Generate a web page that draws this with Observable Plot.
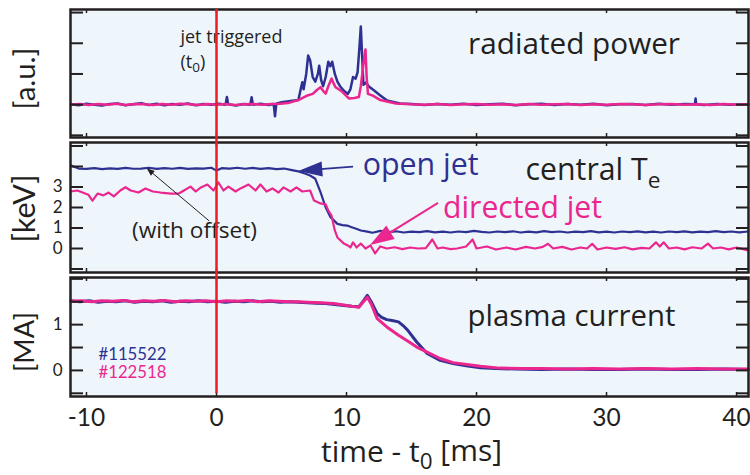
<!DOCTYPE html>
<html><head><meta charset="utf-8">
<script src="https://cdn.jsdelivr.net/npm/d3@7"></script>
<script src="https://cdn.jsdelivr.net/npm/@observablehq/plot@0.6"></script>
<style>
body{margin:0;background:#fff;}
#chart{position:relative;width:750px;height:475px;font-family:"Open Sans",sans-serif;}
#chart svg{position:absolute;left:0;overflow:visible;}
</style></head><body><div id="chart"></div>
<script>
// ---------- data ----------
const xTicks = [-10, 0, 10, 20, 30, 40];
const triggerTime = [0];
const shotNames = ["#115522", "#122518"];

const radiated_115522 = [[-11.2,0.01],[-10.6,-0.02],[-10,0.03],[-9.4,0],[-8.8,-0.03],[-8.2,0.02],[-7.6,0.04],[-7,-0.02],[-6.4,0.01],[-5.8,0.05],[-5.2,-0.01],[-4.6,0.03],[-4,-0.02],[-3.4,0.02],[-2.8,0],[-2.2,0.04],[-1.6,-0.02],[-1,0.02],[-0.4,0],[0.2,0.03],[0.7,0],[0.8,0.25],[0.9,0.01],[1.5,-0.03],[2.1,0.02],[2.6,0],[2.7,0.24],[2.8,0],[3.4,0.03],[4,-0.01],[4.4,0.02],[4.5,-0.38],[4.6,0.03],[5,0.08],[5.7,0.12],[6.3,0.15],[6.5,0.55],[6.6,0.73],[6.7,0.5],[6.9,1.0],[7.05,1.6],[7.2,1.45],[7.4,0.9],[7.6,0.75],[7.8,1.0],[7.9,1.27],[8.05,0.8],[8.2,0.6],[8.4,0.9],[8.6,1.4],[8.75,1.25],[8.9,1.4],[9.1,1.0],[9.3,0.75],[9.5,0.6],[9.8,0.45],[10.1,0.35],[10.3,0.5],[10.5,0.9],[10.7,0.85],[10.85,1.05],[11,1.9],[11.1,2.55],[11.2,1.6],[11.3,0.65],[11.5,0.72],[11.7,0.6],[12.1,0.47],[12.6,0.3],[13.1,0.14],[14.1,0.04],[15,0.02],[16,-0.01],[17,0.02],[18,0],[19,0.03],[20,-0.01],[21,0.01],[22,0.03],[23,-0.02],[24,0.01],[25,0.03],[26,-0.01],[27,0.02],[28,0],[29,0.03],[30,-0.02],[31,0.01],[32,0.02],[33,-0.01],[34,0.03],[35,0],[36,0.02],[36.8,0.01],[36.85,0.2],[36.9,0.01],[37.5,-0.01],[38.5,0.02],[39.5,0],[40.9,0.01]];
const radiated_122518 = [[-11.2,0],[-10.5,0.02],[-9.8,-0.01],[-9.1,0.02],[-8.4,0],[-7.7,0.03],[-7,-0.01],[-6.3,0.02],[-5.6,0.01],[-4.9,-0.01],[-4.2,0.02],[-3.5,0],[-2.8,0.03],[-2.1,0.01],[-1.4,-0.01],[-0.7,0.02],[0,0],[0.7,0.02],[1.4,-0.01],[2.1,0.01],[2.8,0.02],[3.5,0],[4.2,0.02],[4.9,0.03],[5.5,0.05],[6.3,0.15],[7,0.3],[7.4,0.35],[7.7,0.47],[8,0.57],[8.2,0.45],[8.4,0.36],[8.6,0.6],[8.85,0.85],[9,0.7],[9.15,0.57],[9.4,0.5],[9.7,0.41],[10,0.28],[10.2,0.2],[10.6,0.22],[10.95,0.25],[11.1,0.6],[11.2,0.95],[11.35,1.5],[11.46,1.8],[11.55,0.9],[11.65,0.35],[12,0.3],[12.6,0.15],[13.8,0.04],[15,0.01],[16,0],[17,0.02],[18,-0.01],[19,0.01],[20,0.02],[21,0],[22,0.01],[23,-0.01],[24,0.02],[25,0],[26,0.01],[27,0.02],[28,-0.01],[29,0.01],[30,0],[31,0.02],[32,0.01],[33,-0.01],[34,0.01],[35,0.02],[36,0],[37,0.01],[38,-0.01],[39,0.02],[40,0],[40.9,0.01]];

const te_115522 = [[-11.2,4.05],[-10.6,3.9],[-10,3.88],[-9.4,3.92],[-8.8,3.87],[-8.2,3.91],[-7.6,3.88],[-7,3.93],[-6.4,3.89],[-5.8,3.9],[-5.2,3.94],[-4.6,3.88],[-4,3.92],[-3.4,3.89],[-2.8,3.93],[-2.2,3.88],[-1.6,3.91],[-1,3.9],[-0.4,3.94],[0,3.8],[0.4,3.92],[1,3.9],[1.6,3.94],[2.2,3.89],[2.8,3.93],[3.4,3.88],[4,3.92],[4.6,3.87],[5.2,3.9],[5.8,3.82],[6.3,3.76],[6.8,3.66],[7.2,3.56],[7.6,3.4],[8,2.75],[8.4,2.0],[8.77,1.53],[9.3,1.2],[9.7,1.14],[10.05,1.12],[10.4,1.04],[10.8,0.95],[11.1,0.88],[11.6,0.82],[12,0.77],[12.6,0.86],[13.2,0.8],[13.8,0.84],[14.4,0.78],[15,0.82],[15.6,0.8],[16.2,0.85],[16.8,0.79],[17.4,0.82],[18,0.78],[18.6,0.83],[19.2,0.8],[19.8,0.86],[20.4,0.81],[21,0.78],[21.6,0.83],[22.2,0.8],[22.8,0.84],[23.4,0.78],[24,0.82],[24.6,0.79],[25.2,0.85],[25.8,0.8],[26.4,0.83],[27,0.78],[27.6,0.82],[28.2,0.8],[28.8,0.85],[29.4,0.79],[30,0.82],[30.6,0.78],[31.2,0.83],[31.8,0.8],[32.4,0.84],[33,0.79],[33.6,0.82],[34.2,0.78],[34.8,0.83],[35.4,0.8],[36,0.84],[36.6,0.79],[37.2,0.82],[37.8,0.8],[38.4,0.85],[39,0.8],[39.6,0.83],[40.2,0.79],[40.9,0.83]];
const te_122518 = [[-11.23,2.78],[-10.7,2.83],[-9.85,2.62],[-9.54,2.34],[-9.15,2.68],[-8.7,2.59],[-8.3,2.73],[-7.9,2.54],[-7.4,2.83],[-7,2.99],[-6.6,2.83],[-6,2.73],[-5.46,2.93],[-4.9,2.78],[-4.3,2.73],[-3.5,2.68],[-2.9,2.68],[-2.5,2.83],[-2,3.02],[-1.6,2.78],[-1.2,2.98],[-0.7,3.12],[-0.23,2.83],[0.15,3.22],[0.54,2.83],[0.92,3.02],[1.46,2.78],[1.85,2.93],[2.46,3.12],[3,2.83],[3.38,3.12],[3.85,2.78],[4.3,2.93],[4.77,2.73],[5.15,2.98],[5.7,2.78],[6.15,2.98],[6.6,2.78],[7.2,2.83],[7.5,2.34],[8,2.2],[8.4,2.15],[8.6,1.85],[8.85,1.6],[9.1,0.88],[9.3,0.54],[9.8,0.24],[10.1,0.15],[10.3,0.05],[10.5,0.3],[10.77,0.05],[11.1,0.24],[11.46,0],[11.85,0.15],[12.2,-0.24],[12.6,0.1],[13.1,0],[13.7,0.06],[14.3,-0.03],[14.9,0.05],[15.5,0],[16.1,0.02],[16.6,0.44],[17,0],[17.4,0.05],[18,-0.03],[18.5,0],[19.2,0.1],[19.7,0.44],[20,0],[20.8,0.1],[21.5,-0.05],[22.3,0.05],[23,-0.05],[23.8,0.08],[24.5,0],[25.1,0.08],[25.5,0.23],[25.9,0],[26.6,0.08],[27.3,-0.05],[28,0.05],[28.5,0],[28.9,0.23],[29.3,-0.05],[30,0.05],[30.7,-0.02],[31.4,0.06],[32,-0.04],[32.7,0.03],[33.3,0],[33.8,0.3],[34.1,0.1],[34.4,0.3],[34.8,0],[35.4,0.05],[36,-0.04],[36.6,0.06],[37.3,0],[37.8,0.24],[38.2,0],[38.8,0.05],[39.4,-0.04],[40,0.05],[40.5,-0.03],[40.9,-0.1]];

const current_115522 = [[-11.2,1.52],[-10.5,1.5],[-9.8,1.52],[-9.1,1.49],[-8.4,1.51],[-7.7,1.5],[-7,1.52],[-6.3,1.49],[-5.6,1.51],[-4.9,1.5],[-4.2,1.52],[-3.5,1.49],[-2.8,1.51],[-2.1,1.5],[-1.4,1.52],[-0.7,1.5],[0,1.51],[0.7,1.49],[1.4,1.51],[2.1,1.5],[2.8,1.52],[3.5,1.5],[4.2,1.51],[4.9,1.49],[5.6,1.5],[6.3,1.49],[7,1.48],[7.7,1.47],[8.4,1.46],[9.1,1.44],[9.8,1.42],[10.4,1.4],[10.95,1.39],[11.3,1.52],[11.6,1.64],[11.9,1.5],[12.36,1.24],[12.7,1.16],[13.1,1.11],[13.5,1.09],[14,1.06],[14.35,0.98],[14.7,0.88],[15.4,0.62],[16.2,0.37],[17.2,0.22],[18.2,0.15],[19.2,0.1],[20.3,0.06],[21.5,0.04],[23,0.03],[25,0.02],[27,0.03],[29,0.02],[31,0.02],[33,0.03],[35,0.02],[37,0.02],[39,0.03],[40.9,0.02]];
const current_122518 = [[-11.2,1.51],[-10.4,1.52],[-9.6,1.5],[-8.8,1.52],[-8,1.51],[-7.2,1.53],[-6.4,1.5],[-5.6,1.52],[-4.8,1.51],[-4,1.53],[-3.2,1.5],[-2.4,1.52],[-1.6,1.51],[-0.8,1.52],[0,1.5],[0.8,1.52],[1.6,1.51],[2.4,1.53],[3.2,1.5],[4,1.52],[4.8,1.51],[5.6,1.5],[6.3,1.5],[7,1.49],[8,1.48],[9,1.46],[9.8,1.43],[10.4,1.4],[10.95,1.38],[11.3,1.5],[11.6,1.6],[11.9,1.45],[12.36,1.13],[13.1,0.95],[14,0.77],[14.7,0.64],[15.4,0.51],[16.2,0.4],[17.2,0.26],[18.2,0.17],[20.3,0.09],[21.8,0.05],[23.5,0.04],[25,0.04],[27,0.03],[29,0.04],[31,0.03],[33,0.04],[35,0.03],[37,0.04],[39,0.03],[40.9,0.03]];

// ---------- style ----------
const blue = "#2e3192", pink = "#ec268f", red = "#ed1c24", ink = "#231f20", bg = "#eef6fb";
const wordFont = "'Open Sans', sans-serif";
const numFont = "Lato, 'Open Sans', sans-serif";
const xDomain = [-11.23, 40.92];
const rows = pairs => pairs.map(([t, v]) => ({t, v}));
// widths (px) of texts as measured on the reference, used to fit font sizes
const textWidths = {"jet triggered": 102, "radiated power": 212, "open jet": 116, "directed jet": 159,
  "central Te": 135, "(with offset)": 125, "plasma current": 208, "time - t0 [ms]": 181,
  "[a.u.]": 62, "[keV]": 68, "[MA]": 60, "#115522": 68, "#122518": 68};

function arrow(tail, tip, {color, width, headLen, headHalf}) {
  return (index, scales) => {
    const X1 = scales.x(tail[0]), Y1 = scales.y(tail[1]);
    const X2 = scales.x(tip[0]), Y2 = scales.y(tip[1]);
    const dx = X2 - X1, dy = Y2 - Y1, L = Math.hypot(dx, dy);
    const ux = dx / L, uy = dy / L;
    const bx = X2 - ux * headLen, by = Y2 - uy * headLen;
    const g = d3.create("svg:g");
    g.append("line").attr("x1", X1).attr("y1", Y1).attr("x2", bx + ux * 2).attr("y2", by + uy * 2)
      .attr("stroke", color).attr("stroke-width", width);
    g.append("path")
      .attr("d", `M${X2},${Y2}L${bx - uy * headHalf},${by + ux * headHalf}L${bx + uy * headHalf},${by - ux * headHalf}Z`)
      .attr("fill", color);
    return g.node();
  };
}

function panel({top, height, marginTop, marginBottom, yDomain, yTicks, yLabels, yLabel, labelShift, marks, redTop, redBottom, extra = []}) {
  const frameH = height - marginTop - marginBottom;
  const frameW = 750 - 70 - 2;
  const svg = Plot.plot({
    width: 750, height, marginLeft: 70, marginRight: 2, marginTop, marginBottom,
    style: {fontFamily: wordFont, color: ink, background: "transparent", overflow: "visible"},
    x: {domain: xDomain, axis: null},
    y: {domain: yDomain, axis: null},
    marks: [
      Plot.frame({fill: bg}),
      ...marks,
      Plot.tickY(yTicks, {y: d => d, stroke: ink, strokeWidth: 2, insetRight: frameW - 13}),
      Plot.tickY(yTicks, {y: d => d, stroke: ink, strokeWidth: 2, insetLeft: frameW - 12}),
      Plot.tickX(xTicks, {x: d => d, stroke: ink, strokeWidth: 1.5, insetBottom: frameH - 4}),
      Plot.tickX(xTicks, {x: d => d, stroke: ink, strokeWidth: 1.5, insetTop: frameH - 4}),
      Plot.frame({stroke: ink, strokeWidth: 2.5}),
      yLabels ? Plot.axisY(yLabels, {tickSize: 0, tickPadding: 8, fontSize: 17, fontFamily: numFont, label: null, tickFormat: d => String(d)}) : null,
      Plot.text([yLabel], {frameAnchor: "left", textAnchor: "middle", lineAnchor: "middle", rotate: -90, dx: -45, dy: labelShift, fontSize: 28, fill: ink, fontFamily: numFont}),
      ...extra,
      Plot.ruleX(triggerTime, {x: d => d, stroke: red, strokeWidth: 2.5, insetTop: redTop, insetBottom: redBottom})
    ]
  });
  svg.style.position = "absolute";
  svg.style.top = top + "px";
  svg.style.left = "0px";
  return svg;
}

const lineOpts = (color, w) => ({x: "t", y: "v", stroke: color, strokeWidth: w, strokeLinejoin: "round", curve: "linear"});

const p1 = panel({
  top: 0, height: 140, marginTop: 9, marginBottom: 3,
  yDomain: [-1.07, 3.1], yTicks: [-1, 0, 1, 2, 3], yLabels: null, yLabel: "[a.u.]", labelShift: 5,
  redTop: 0, redBottom: -3,
  marks: [
    Plot.line(rows(radiated_115522), lineOpts(blue, 2.5)),
    Plot.line(rows(radiated_122518), lineOpts(pink, 2.5)),
    Plot.text(["jet triggered"], {x: -2.77, y: 2.2, textAnchor: "start", fontSize: 17, fill: ink}),
    Plot.text(["(t_0)"], {x: -2.77, y: 1.39, textAnchor: "start", fontSize: 18, fill: ink}),
    Plot.text(["radiated power"], {x: 27.5, y: 1.95, fontSize: 28, fill: ink})
  ]
});

const p2 = panel({
  top: 140, height: 135, marginTop: 2, marginBottom: 3,
  yDomain: [-1.17, 5.17], yTicks: [-1, 0, 1, 2, 3, 4, 5], yLabels: [0, 1, 2, 3], yLabel: "[keV]", labelShift: 1,
  redTop: -2, redBottom: -3,
  marks: [
    Plot.line(rows(te_115522), lineOpts(blue, 2.2)),
    Plot.line(rows(te_122518), lineOpts(pink, 2.2)),
    Plot.text(["open jet"], {x: 15.7, y: 4.08, fontSize: 29, fill: blue}),
    Plot.text(["directed jet"], {x: 23.54, y: 1.96, fontSize: 28.5, fill: pink}),
    Plot.text(["central T_e"], {x: 23.77, y: 3.79, textAnchor: "start", fontSize: 28, fill: ink}),
    Plot.text(["(with offset)"], {x: -1.69, y: 0.86, fontSize: 20.5, fill: ink}),
    arrow([10.54, 3.97], [6.33, 3.76], {color: blue, width: 1.8, headLen: 24, headHalf: 7.5}),
    arrow([17.08, 2.2], [11.85, 0.15], {color: pink, width: 2, headLen: 24, headHalf: 8}),
    arrow([-0.52, 1.32], [-5.33, 3.89], {color: ink, width: 1, headLen: 8, headHalf: 3})
  ]
});

const p3 = panel({
  top: 275, height: 200, marginTop: 2, marginBottom: 79,
  yDomain: [-0.57, 2.03], yTicks: [-0.5, 0, 0.5, 1, 1.5, 2], yLabels: [0, 1], yLabel: "[MA]", labelShift: 5,
  redTop: -2, redBottom: 3,
  marks: [
    Plot.line(rows(current_115522), lineOpts(blue, 3)),
    Plot.line(rows(current_122518), lineOpts(pink, 3)),
    Plot.text(["plasma current"], {x: 27.31, y: 1.18, fontSize: 28.5, fill: ink}),
    Plot.text([shotNames[0]], {x: -9.08, y: 0.35, textAnchor: "start", fontSize: 16, fill: blue, fontFamily: numFont}),
    Plot.text([shotNames[1]], {x: -9.08, y: -0.04, textAnchor: "start", fontSize: 16, fill: pink, fontFamily: numFont})
  ],
  extra: [
    Plot.axisX(xTicks, {tickSize: 0, tickPadding: 12, fontSize: 24.5, fontFamily: numFont, label: null, tickFormat: d => String(d)}),
    Plot.text(["time - t_0 [ms]"], {frameAnchor: "bottom", dy: 65, dx: 2, fontSize: 29, fill: ink})
  ]
});

const chart = document.getElementById("chart");
chart.append(p1, p2, p3);

// subscripts: "a_b" -> a with subscript b (sizes in em so they follow the parent font size)
d3.select(chart).selectAll("text").each(function () {
  const s = this.textContent;
  const m = s.match(/^(.*)_(\w)(.*)$/);
  if (!m || this.children.length) return;
  this.textContent = "";
  this.appendChild(document.createTextNode(m[1]));
  d3.select(this).append("tspan").style("font-size", "75%").attr("dy", "0.33em").text(m[2]);
  if (m[3]) d3.select(this).append("tspan").attr("dy", "-0.25em").text(m[3]);
});

// fit font sizes to the widths measured on the reference
d3.select(chart).selectAll("text").each(function () {
  const target = textWidths[this.textContent];
  if (!target) return;
  const w = this.getComputedTextLength();
  if (!w) return;
  const fs = parseFloat(getComputedStyle(this).fontSize);
  this.style.fontSize = (fs * target / w).toFixed(2) + "px";
});
</script>
</body></html>
